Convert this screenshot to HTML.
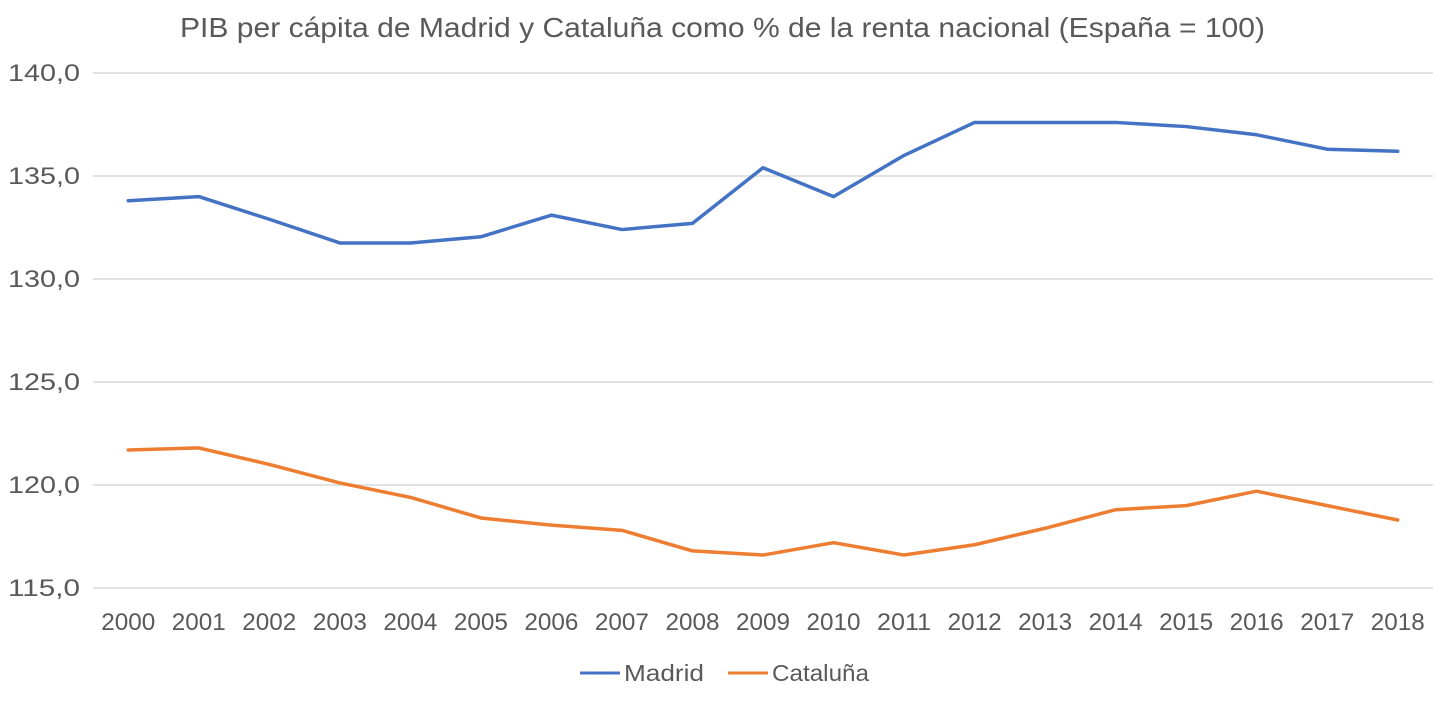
<!DOCTYPE html>
<html><head><meta charset="utf-8"><style>
body{margin:0;background:#fff;}
svg{display:block;font-family:"Liberation Sans",sans-serif;}
</style></head><body>
<svg id="chart" width="1450" height="705" viewBox="0 0 1450 705">
<text x="180" y="37" font-size="28" textLength="1085" lengthAdjust="spacingAndGlyphs" fill="#595959">PIB per cápita de Madrid y Cataluña como % de la renta nacional (España = 100)</text>
<g id="grid"></g><g id="yticks"></g><g id="xticks"></g><g id="series"></g>
<g>
<line x1="580" y1="673" x2="620" y2="673" stroke="#4472C4" stroke-width="3"/>
<text x="624" y="681" font-size="23" textLength="80" lengthAdjust="spacingAndGlyphs" fill="#595959">Madrid</text>
<line x1="728" y1="673" x2="768" y2="673" stroke="#ED7D31" stroke-width="3"/>
<text x="772" y="681" font-size="23" textLength="97" lengthAdjust="spacingAndGlyphs" fill="#595959">Cataluña</text>
</g>
</svg>
<script>
const years=["2000","2001","2002","2003","2004","2005","2006","2007","2008","2009","2010","2011","2012","2013","2014","2015","2016","2017","2018"];
const madrid=[133.8,134.0,132.9,131.75,131.75,132.05,133.1,132.4,132.7,135.4,134.0,136.0,137.6,137.6,137.6,137.4,137.0,136.3,136.2];
const cataluna=[121.7,121.8,121.0,120.1,119.4,118.4,118.05,117.8,116.8,116.6,117.2,116.6,117.1,117.9,118.8,119.0,119.7,119.0,118.3];
const yTicks=[115,120,125,130,135,140];
const NS="http://www.w3.org/2000/svg";
const y=v=>73+(140-v)*20.6;
const x=i=>93+(i+0.5)*(1340/19);
function mk(t,a,p){const e=document.createElementNS(NS,t);for(const k in a)e.setAttribute(k,a[k]);p.appendChild(e);return e;}
const grid=document.getElementById('grid'),yt=document.getElementById('yticks'),xt=document.getElementById('xticks'),sr=document.getElementById('series');
yTicks.forEach(v=>{
 const l=mk('line',{x1:93,x2:1433,y1:y(v),y2:y(v),stroke:'#D9D9D9','stroke-width':1.5},grid);
 
 
 const t=mk('text',{x:80,y:y(v)+8,'text-anchor':'end','font-size':24,textLength:72,lengthAdjust:'spacingAndGlyphs',fill:'#595959'},yt);
 t.textContent=v.toFixed(1).replace('.',',');
 
 
});
years.forEach((yr,i)=>{
 const t=mk('text',{x:x(i),y:630,'text-anchor':'middle','font-size':24,textLength:54,lengthAdjust:'spacingAndGlyphs',fill:'#595959'},xt);
 t.textContent=yr;
 
 
});
[[madrid,'#4472C4','madrid-line'],[cataluna,'#ED7D31','cataluna-line']].forEach(([d,c,n])=>{
 const p=mk('polyline',{points:d.map((v,i)=>x(i)+','+y(v)).join(' '),fill:'none',stroke:c,'stroke-width':3.5,'stroke-linejoin':'round','stroke-linecap':'round'},sr);
 
 
});
</script>
</body></html>
